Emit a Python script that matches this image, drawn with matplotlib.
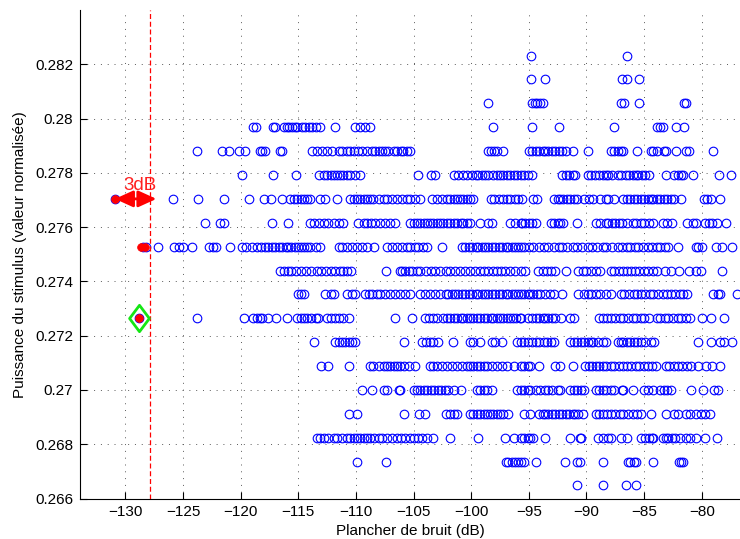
import matplotlib
matplotlib.use("Agg")
import matplotlib.pyplot as plt
from matplotlib.path import Path
import numpy as np

plt.rcParams['font.family'] = ['Liberation Sans', 'DejaVu Sans']

levels = [0.26648, 0.26736, 0.26824, 0.26912, 0.27000, 0.27088, 0.27176, 0.27264,
          0.27352, 0.27440, 0.27528, 0.27616, 0.27704, 0.27792, 0.27880, 0.27968,
          0.28056, 0.28144, 0.28232]

x_lvl00 = [-90.8, -88.6, -86.6, -85.7]
x_lvl01 = [-109.9, -107.4, -97.0, -96.8, -96.5, -96.2, -95.9, -95.7, -95.4, -94.4, -91.9, -90.8, -90.6,
           -88.6, -86.4, -86.2, -85.9, -85.7, -84.2, -82.0, -81.8, -81.6]
x_lvl02 = [-113.4, -113.1, -112.8, -112.4, -111.9, -111.6, -111.2, -110.8, -110.5, -110.2, -109.9, -109.6,
           -109.3, -109.0, -108.8, -108.4, -108.0, -107.7, -107.3, -106.9, -106.4, -106.1, -105.7, -105.3,
           -105.0, -104.6, -104.3, -103.8, -103.3, -101.8, -99.4, -97.1, -96.3, -95.7, -95.4, -95.1, -94.9,
           -94.6, -93.6, -91.4, -90.6, -90.5, -89.0, -88.6, -88.1, -87.9, -87.0, -86.5, -85.3, -84.9, -84.6,
           -84.3, -84.2, -83.4, -83.1, -82.9, -82.6, -82.3, -81.9, -81.4, -81.0, -80.5, -79.7, -78.7]
x_lvl03 = [-110.6, -109.9, -105.8, -104.5, -104.0, -102.2, -101.8, -101.5, -101.2, -100.1, -99.8, -99.5,
           -99.2, -98.9, -98.6, -98.4, -98.1, -97.8, -97.5, -97.2, -96.8, -95.4, -94.9, -94.1, -93.8, -93.6,
           -93.3, -93.0, -92.7, -92.4, -92.1, -91.8, -91.5, -91.2, -91.0, -90.7, -90.3, -89.2, -88.9, -88.6,
           -88.2, -87.9, -87.5, -87.1, -86.8, -86.4, -86.0, -85.6, -85.3, -84.4, -83.1, -82.4, -82.1, -81.4,
           -81.0, -80.5, -80.1, -79.7, -79.3]
x_lvl04 = [-109.5, -108.6, -107.6, -107.3, -106.3, -106.2, -105.0, -104.7, -104.4, -104.1, -103.8, -103.5,
           -103.2, -102.9, -102.6, -102.3, -102.0, -101.5, -100.9, -99.5, -99.2, -98.9, -98.6, -98.2, -96.0,
           -95.7, -95.4, -95.1, -94.9, -94.4, -94.0, -93.6, -93.3, -93.0, -92.5, -92.3, -91.4, -91.1, -90.8,
           -90.5, -90.2, -89.2, -88.9, -88.6, -88.3, -87.9, -87.6, -86.9, -86.8, -86.0, -85.0, -84.7, -84.2,
           -83.6, -83.3, -83.0, -82.7, -80.9, -79.9, -78.9, -78.6]
x_lvl05 = [-113.0, -112.4, -110.6, -108.8, -108.5, -108.0, -107.6, -107.3, -107.0, -106.7, -106.4, -106.2,
           -105.8, -105.4, -104.9, -103.6, -103.3, -103.0, -102.5, -102.1, -101.7, -101.2, -100.8, -100.4,
           -100.1, -99.8, -99.5, -99.2, -98.9, -98.6, -98.2, -97.8, -97.3, -96.9, -96.3, -95.7, -95.4, -95.1,
           -94.9, -94.1, -92.7, -92.3, -91.2, -90.1, -89.8, -89.5, -89.2, -88.9, -88.6, -88.3, -87.9, -87.6,
           -87.2, -86.8, -86.5, -86.1, -85.7, -85.4, -85.0, -84.7, -84.3, -84.0, -83.1, -82.8, -82.4, -82.1,
           -81.7, -81.3, -80.9, -80.3, -79.6, -79.1, -78.4]
x_lvl06 = [-113.6, -111.8, -111.5, -111.2, -110.9, -110.6, -110.3, -110.1, -105.8, -104.3, -103.9, -103.6,
           -103.3, -102.9, -101.6, -100.1, -99.8, -99.2, -98.2, -97.9, -97.3, -96.0, -95.7, -95.4, -95.1,
           -94.7, -94.4, -94.1, -93.7, -93.4, -93.1, -92.8, -91.4, -91.1, -90.8, -90.5, -90.2, -89.9, -89.6,
           -89.4, -89.0, -88.6, -88.3, -87.3, -87.0, -86.8, -86.5, -86.2, -85.9, -85.6, -85.3, -84.9, -84.4,
           -84.1, -80.3, -79.2, -78.4, -78.1, -77.4]
x_lvl07 = [-128.8, -123.75, -119.7, -118.9, -118.6, -118.3, -118.1, -117.6, -116.9, -116.0, -115.1, -114.8,
           -114.5, -114.2, -113.9, -113.5, -113.3, -112.5, -112.2, -111.8, -111.5, -111.1, -110.6, -106.6,
           -105.1, -104.0, -103.7, -103.3, -103.0, -102.4, -102.1, -101.8, -101.5, -101.2, -100.9, -100.7,
           -100.4, -100.1, -99.8, -99.5, -99.2, -98.9, -98.6, -98.3, -98.1, -97.8, -97.5, -97.2, -96.9, -96.6,
           -96.4, -96.1, -95.8, -95.7, -95.1, -94.7, -94.4, -94.1, -93.8, -93.6, -93.3, -93.0, -92.7, -92.2,
           -91.4, -91.1, -88.9, -88.6, -88.2, -87.9, -87.5, -87.1, -86.8, -86.4, -86.0, -85.7, -85.3, -85.0,
           -84.6, -83.9, -83.6, -83.2, -82.9, -82.5, -82.1, -81.8, -81.4, -81.0, -80.0, -79.2, -78.1]
x_lvl08 = [-115.0, -114.8, -114.5, -112.7, -112.2, -111.9, -110.8, -110.3, -110.1, -109.2, -108.9, -108.6,
           -108.2, -107.9, -107.5, -107.0, -106.6, -106.2, -105.7, -105.3, -104.4, -104.0, -103.6, -103.1,
           -102.7, -102.2, -102.0, -101.7, -101.4, -101.1, -100.8, -100.5, -100.2, -99.9, -99.6, -99.4, -99.1,
           -98.8, -98.5, -98.2, -97.9, -97.6, -97.3, -97.0, -96.8, -96.5, -96.2, -95.9, -95.7, -95.4, -95.1,
           -94.9, -94.6, -94.3, -94.0, -93.6, -93.2, -92.8, -92.1, -90.7, -90.2, -89.9, -89.6, -89.2, -88.8,
           -88.3, -87.9, -87.0, -86.7, -86.3, -85.9, -85.6, -85.3, -84.9, -84.5, -84.2, -83.8, -83.4, -83.0,
           -82.7, -82.3, -81.9, -81.6, -81.3, -79.0, -78.6, -78.4, -76.9]
x_lvl09 = [-116.6, -116.2, -115.9, -115.6, -115.2, -114.8, -114.3, -113.9, -113.4, -113.0, -112.6, -112.2,
           -111.8, -111.4, -111.1, -110.8, -110.4, -107.4, -106.2, -106.0, -105.7, -105.4, -105.1, -104.7,
           -104.4, -103.9, -103.5, -103.1, -102.7, -102.2, -101.8, -101.4, -101.0, -100.5, -100.1, -99.7,
           -99.2, -98.9, -98.5, -98.1, -97.8, -97.4, -97.1, -96.6, -96.2, -95.7, -95.3, -94.2, -93.8, -93.4,
           -93.1, -92.7, -91.8, -90.7, -90.3, -90.0, -89.6, -89.2, -88.8, -87.9, -87.6, -87.2, -86.8, -86.5,
           -86.1, -85.8, -85.4, -85.0, -84.7, -84.2, -83.9, -83.2, -82.7, -82.0, -81.1, -80.5, -80.1, -78.2]
x_lvl10 = [-128.5, -128.2, -127.2, -125.8, -125.3, -125.0, -124.2, -122.7, -122.4, -122.1, -120.9, -119.9,
           -119.5, -119.0, -118.6, -118.2, -117.9, -117.6, -117.3, -117.0, -116.7, -116.4, -116.1, -115.9,
           -115.6, -115.3, -115.0, -114.8, -114.5, -114.2, -114.0, -113.5, -113.1, -111.5, -111.2, -110.8,
           -110.3, -109.9, -109.5, -109.0, -108.4, -107.3, -106.9, -106.4, -106.0, -105.6, -105.3, -104.9,
           -104.6, -104.2, -103.8, -102.5, -100.8, -100.5, -100.2, -99.9, -99.6, -99.4, -99.1, -98.8, -98.5,
           -98.2, -97.9, -97.6, -97.3, -97.0, -96.8, -96.5, -96.2, -95.9, -95.7, -95.4, -95.0, -94.6, -94.1,
           -93.7, -93.3, -92.8, -92.4, -92.1, -91.7, -91.2, -90.8, -90.4, -89.9, -89.5, -89.1, -88.6, -88.3,
           -87.8, -87.3, -86.9, -86.5, -86.2, -85.8, -85.5, -85.1, -84.7, -84.3, -83.9, -83.6, -83.2, -82.9,
           -82.1, -80.5, -80.3, -80.0, -78.8, -78.2, -77.4]
x_lvl11 = [-123.1, -121.8, -121.4, -117.3, -115.9, -114.0, -113.6, -113.2, -112.8, -112.4, -111.9, -111.5,
           -111.1, -109.8, -109.3, -109.0, -108.7, -108.3, -107.9, -107.5, -107.0, -106.6, -105.3, -105.0,
           -104.7, -104.4, -104.1, -103.8, -103.6, -103.3, -103.0, -102.7, -102.4, -102.1, -101.8, -101.5,
           -101.2, -100.9, -100.7, -100.4, -100.1, -99.2, -98.5, -98.2, -96.6, -96.2, -95.7, -95.6, -95.3,
           -95.0, -94.7, -94.4, -93.1, -92.8, -92.5, -92.3, -92.0, -90.8, -89.2, -88.8, -88.3, -88.1, -87.8,
           -87.5, -87.2, -86.9, -86.5, -86.0, -85.7, -85.3, -85.0, -84.6, -84.2, -83.4, -83.0, -82.6, -81.3,
           -80.8, -80.5, -79.7, -79.4, -79.1, -78.7, -77.9]
x_lvl12 = [-130.9, -125.9, -123.7, -121.4, -119.3, -118.0, -117.4, -116.4, -115.7, -115.4, -115.1, -114.8,
           -114.5, -114.2, -114.0, -113.1, -112.7, -111.6, -110.5, -110.2, -109.9, -109.6, -109.3, -109.0,
           -108.8, -108.5, -108.0, -107.6, -107.3, -106.9, -106.4, -106.0, -105.6, -105.3, -104.9, -104.4,
           -103.4, -103.0, -102.5, -102.1, -101.8, -101.5, -101.2, -101.0, -100.7, -100.4, -100.1, -99.8,
           -98.3, -98.0, -97.6, -97.2, -96.9, -96.6, -96.2, -95.9, -95.6, -94.6, -94.3, -92.8, -92.5, -92.3,
           -92.0, -91.7, -91.4, -91.1, -90.8, -90.2, -89.8, -89.4, -88.8, -88.3, -88.1, -87.6, -86.8, -86.5,
           -86.2, -85.9, -85.6, -85.3, -85.0, -84.7, -84.4, -84.2, -83.9, -83.6, -83.3, -83.0, -82.7, -82.4,
           -81.8, -79.8, -79.5, -79.2, -78.4]
x_lvl13 = [-119.9, -117.2, -115.2, -113.2, -112.8, -112.5, -112.2, -111.9, -111.6, -111.4, -111.1, -110.8,
           -110.5, -110.1, -109.6, -104.6, -103.5, -103.1, -101.5, -101.1, -100.7, -100.4, -99.9, -99.6,
           -99.4, -99.1, -98.8, -98.5, -98.1, -97.8, -97.5, -97.2, -96.9, -96.6, -96.3, -96.0, -95.7, -95.4,
           -95.1, -94.7, -92.1, -91.8, -91.5, -91.2, -90.95, -89.9, -89.6, -89.3, -88.9, -88.6, -88.3, -88.1,
           -87.8, -87.3, -87.0, -86.6, -86.3, -86.0, -85.7, -85.5, -85.2, -84.9, -84.6, -83.1, -82.4, -82.1,
           -81.8, -81.6, -80.8, -78.5, -77.5]
x_lvl14 = [-123.8, -121.6, -121.0, -120.1, -119.6, -118.3, -118.1, -117.9, -116.6, -116.4, -113.8, -113.4,
           -112.9, -112.5, -112.1, -111.5, -111.2, -110.8, -110.5, -110.2, -109.8, -109.5, -109.0, -108.6,
           -108.3, -108.0, -107.7, -107.5, -107.2, -106.7, -106.4, -106.1, -105.9, -105.6, -105.3, -98.5,
           -98.3, -98.0, -97.8, -97.2, -95.0, -94.7, -94.4, -94.1, -93.8, -93.6, -93.3, -93.0, -92.7, -92.4,
           -92.1, -91.8, -91.2, -89.85, -87.9, -87.6, -87.3, -87.0, -86.8, -85.6, -84.4, -84.2, -83.9, -83.3,
           -83.1, -82.2, -81.4, -81.1, -79.0]
x_lvl15 = [-118.9, -118.7, -117.16, -117.0, -116.2, -116.0, -115.8, -115.5, -115.3, -115.1, -114.7, -114.4,
           -114.1, -113.8, -113.5, -113.1, -111.8, -110.06, -109.6, -109.2, -108.8, -98.1, -94.7, -92.4,
           -87.6, -83.9, -83.6, -83.4, -82.2, -81.5]
x_lvl16 = [-98.5, -94.7, -94.5, -94.3, -94.0, -93.8, -87.0, -86.7, -85.4, -81.5, -81.4]
x_lvl17 = [-94.8, -93.6, -86.9, -86.5, -85.4]
x_lvl18 = [-94.8, -86.5]

x_by_level = [x_lvl00, x_lvl01, x_lvl02, x_lvl03, x_lvl04, x_lvl05, x_lvl06, x_lvl07, x_lvl08, x_lvl09,
              x_lvl10, x_lvl11, x_lvl12, x_lvl13, x_lvl14, x_lvl15, x_lvl16, x_lvl17, x_lvl18]

red_x = [-130.9, -128.6, -128.25, -128.8]
red_y = [0.27704, 0.27528, 0.27528, 0.27264]
green_x = [-128.8]
green_y = [0.27264]
ref_x = -130.9
ref_y = 0.27704
offset_db = 3.0

xticks = [-130, -125, -120, -115, -110, -105, -100, -95, -90, -85, -80]
yticks = [0.266, 0.268, 0.270, 0.272, 0.274, 0.276, 0.278, 0.280, 0.282]
ytick_labels = ['0.266', '0.268', '0.27', '0.272', '0.274', '0.276', '0.278', '0.28', '0.282']

fig = plt.figure(figsize=(7.40, 5.39), dpi=100)
ax = fig.add_axes([80/740, 1 - 498.5/539, 1 - 80/740, (498.5 - 10)/539])

xs = np.concatenate([np.asarray(v, float) for v in x_by_level])
ys = np.concatenate([np.full(len(v), lv) for v, lv in zip(x_by_level, levels)])
ax.plot(xs, ys, linestyle='none', marker='o', markersize=6.2, markerfacecolor='none',
        markeredgecolor='#0000ff', markeredgewidth=0.8)

# green diamond
diamond = Path([(0, 1), (0.75, 0), (0, -1), (-0.75, 0), (0, 1)],
               [Path.MOVETO, Path.LINETO, Path.LINETO, Path.LINETO, Path.CLOSEPOLY])
ax.plot(green_x, green_y, linestyle='none', marker=diamond, markersize=19,
        markerfacecolor='none', markeredgecolor='#14e614', markeredgewidth=2.0, zorder=4)

ax.plot(red_x, red_y, linestyle='none', marker='o', markersize=5.6,
        markerfacecolor='#ff0000', markeredgecolor='#ff0000', markeredgewidth=0.5, zorder=5)

# threshold line
ax.axvline(ref_x + offset_db, color='#ff0000', linewidth=0.9, linestyle=(0, (4, 2.2)), zorder=3)

# 3 dB arrow
ax.annotate('', xy=(ref_x + offset_db + 0.6, ref_y), xytext=(ref_x, ref_y),
            arrowprops=dict(arrowstyle='<|-|>,head_length=1.1,head_width=0.5',
                            color='#ff0000', lw=2.0, shrinkA=0, shrinkB=0), zorder=6)
ax.text(-128.7, 0.27722, '3dB', color='#ff2020', fontsize=13.5,
        ha='center', va='bottom', zorder=6)

ax.set_xlim(-133.93, -76.68)
ax.set_ylim(0.266, 0.284)
ax.set_xticks(xticks)
ax.set_yticks(yticks)
ax.set_yticklabels(ytick_labels)
ax.tick_params(direction='in', length=5, width=0.8, labelsize=11, colors='black', pad=5)

ax.grid(True, color='0.35', linestyle=(0, (1, 6)), linewidth=0.7)
ax.set_axisbelow(True)
ax.spines['top'].set_visible(False)
ax.spines['right'].set_visible(False)
ax.spines['left'].set_linewidth(0.8)
ax.spines['bottom'].set_linewidth(0.8)

ax.set_xlabel('Plancher de bruit (dB)', fontsize=11, labelpad=3)
ax.set_ylabel('Puissance du stimulus (valeur normalisée)', fontsize=11, labelpad=6)

fig.savefig('out.png', dpi=100)
